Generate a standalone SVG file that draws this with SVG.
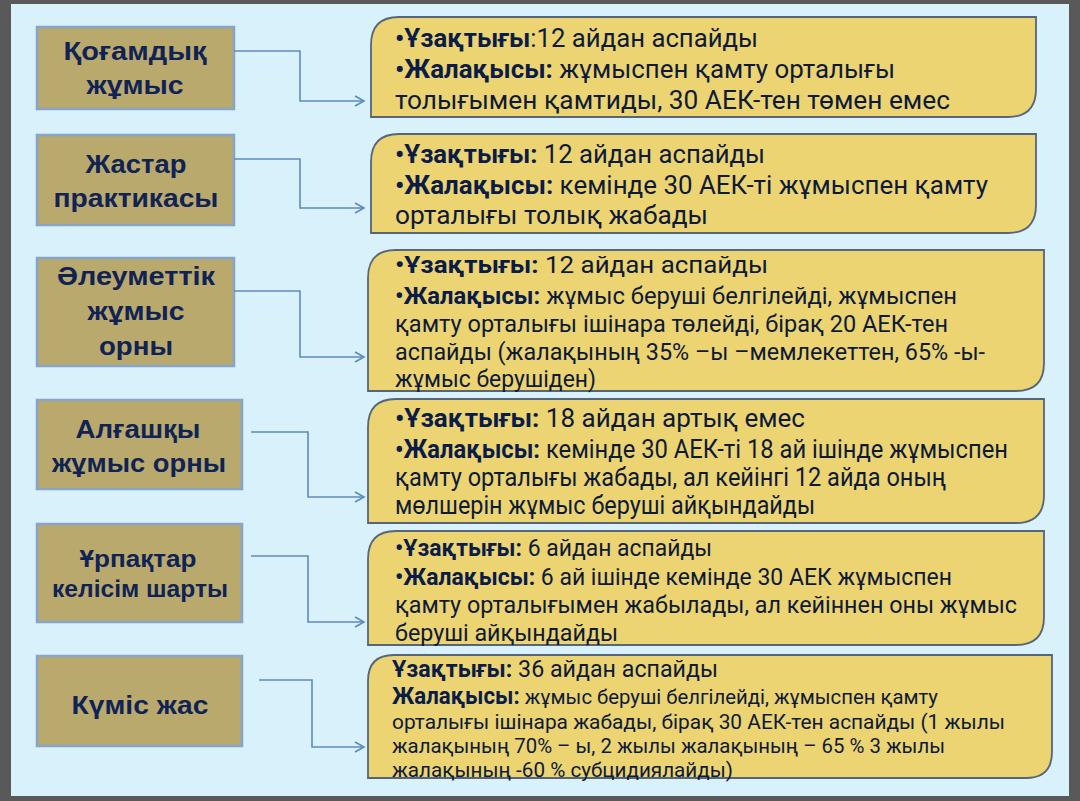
<svg xmlns="http://www.w3.org/2000/svg" width="1080" height="801" viewBox="0 0 1080 801">
<style>
.node rect{fill:#b9a96d;stroke:#86a5c8;stroke-width:2.5}
.nt{font-family:"Liberation Sans",Arial,sans-serif;font-weight:bold;fill:#102354;text-anchor:middle}
.box path{fill:#ebd471;stroke:#56657a;stroke-width:1.8}
.bt{font-family:Roboto,"Liberation Sans",sans-serif;fill:#0e1a38}
.b{font-weight:bold;fill:#0c1c48}
.conn path{fill:none;stroke:#5d8bbd;stroke-width:1.6}
</style>
<defs>
<marker id="arr" markerWidth="12" markerHeight="12" refX="10" refY="6" orient="auto" markerUnits="userSpaceOnUse">
<path d="M1,1 L10,6 L1,11" fill="none" stroke="#5d8bbd" stroke-width="1.6"/>
</marker>
</defs>
<rect x="0" y="0" width="1080" height="801" fill="#595959"/>
<rect x="11" y="4" width="1058" height="792" fill="#d9f1fb"/>

<g id="n1" class="node"><rect x="37" y="27" width="197" height="82"/>
<text class="nt" font-size="26" x="135" y="60" textLength="143" lengthAdjust="spacingAndGlyphs">Қоғамдық</text>
<text class="nt" font-size="26" x="135" y="94" textLength="97" lengthAdjust="spacingAndGlyphs">жұмыс</text></g>
<g id="n2" class="node"><rect x="37" y="135" width="197" height="90"/>
<text class="nt" font-size="26" x="136" y="173" textLength="101" lengthAdjust="spacingAndGlyphs">Жастар</text>
<text class="nt" font-size="26" x="136" y="207" textLength="165" lengthAdjust="spacingAndGlyphs">практикасы</text></g>
<g id="n3" class="node"><rect x="37" y="258" width="197" height="108"/>
<text class="nt" font-size="26" x="136" y="285" textLength="158" lengthAdjust="spacingAndGlyphs">Әлеуметтік</text>
<text class="nt" font-size="26" x="136" y="320" textLength="97" lengthAdjust="spacingAndGlyphs">жұмыс</text>
<text class="nt" font-size="26" x="136" y="355" textLength="74" lengthAdjust="spacingAndGlyphs">орны</text></g>
<g id="n4" class="node"><rect x="37" y="400" width="205" height="89"/>
<text class="nt" font-size="26" x="138" y="438" textLength="125" lengthAdjust="spacingAndGlyphs">Алғашқы</text>
<text class="nt" font-size="26" x="139" y="472" textLength="174" lengthAdjust="spacingAndGlyphs">жұмыс орны</text></g>
<g id="n5" class="node"><rect x="37" y="524" width="205" height="98"/>
<text class="nt" font-size="24" x="138" y="567" textLength="117" lengthAdjust="spacingAndGlyphs">Ұрпақтар</text>
<text class="nt" font-size="24" x="140" y="597" textLength="176" lengthAdjust="spacingAndGlyphs">келісім шарты</text></g>
<g id="n6" class="node"><rect x="37" y="656" width="205" height="90"/>
<text class="nt" font-size="26" x="140" y="714" textLength="137" lengthAdjust="spacingAndGlyphs">Күміс жас</text></g>

<g id="connectors" class="conn">
<path d="M234,51 H300 V101 H364" marker-end="url(#arr)"/>
<path d="M234,159 H300 V208 H364" marker-end="url(#arr)"/>
<path d="M234,291 H300 V357 H364" marker-end="url(#arr)"/>
<path d="M251,432 H308 V497 H364" marker-end="url(#arr)"/>
<path d="M251,556 H308 V622 H364" marker-end="url(#arr)"/>
<path d="M259,680 H312 V747 H364" marker-end="url(#arr)"/>
</g>

<g id="b1" class="box"><path d="M371,117 V45 Q371,17 399,17 H1036 V89 Q1036,117 1008,117 Z"/>
<text class="bt" font-size="26" x="395" y="47" textLength="363" lengthAdjust="spacingAndGlyphs"><tspan class="b">•Ұзақтығы</tspan>:12 айдан аспайды</text>
<text class="bt" font-size="26" x="395" y="78" textLength="500" lengthAdjust="spacingAndGlyphs"><tspan class="b">•Жалақысы:</tspan> жұмыспен қамту орталығы</text>
<text class="bt" font-size="26" x="395" y="109" textLength="555" lengthAdjust="spacingAndGlyphs">толығымен қамтиды, 30 АЕК-тен төмен емес</text></g>

<g id="b2" class="box"><path d="M371,233 V162 Q371,134 399,134 H1036 V205 Q1036,233 1008,233 Z"/>
<text class="bt" font-size="26" x="395" y="163" textLength="370" lengthAdjust="spacingAndGlyphs"><tspan class="b">•Ұзақтығы:</tspan> 12 айдан аспайды</text>
<text class="bt" font-size="26" x="395" y="194" textLength="593" lengthAdjust="spacingAndGlyphs"><tspan class="b">•Жалақысы:</tspan> кемінде 30 АЕК-ті жұмыспен қамту</text>
<text class="bt" font-size="26" x="395" y="224" textLength="313" lengthAdjust="spacingAndGlyphs">орталығы толық жабады</text></g>

<g id="b3" class="box"><path d="M368,391 V278 Q368,250 396,250 H1044 V363 Q1044,391 1016,391 Z"/>
<text class="bt" font-size="24" x="395" y="273" textLength="373" lengthAdjust="spacingAndGlyphs"><tspan class="b">•Ұзақтығы:</tspan> 12 айдан аспайды</text>
<text class="bt" font-size="24" x="395" y="304" textLength="562" lengthAdjust="spacingAndGlyphs"><tspan class="b">•Жалақысы:</tspan> жұмыс беруші белгілейді, жұмыспен</text>
<text class="bt" font-size="24" x="395" y="332" textLength="553" lengthAdjust="spacingAndGlyphs">қамту орталығы ішінара төлейді, бірақ 20 АЕК-тен</text>
<text class="bt" font-size="24" x="395" y="360" textLength="590" lengthAdjust="spacingAndGlyphs">аспайды (жалақының 35% –ы –мемлекеттен, 65% -ы-</text>
<text class="bt" font-size="24" x="395" y="387" textLength="201" lengthAdjust="spacingAndGlyphs">жұмыс берушіден)</text></g>

<g id="b4" class="box"><path d="M368,523 V427 Q368,399 396,399 H1044 V495 Q1044,523 1016,523 Z"/>
<text class="bt" font-size="25" x="395" y="427" textLength="410" lengthAdjust="spacingAndGlyphs"><tspan class="b">•Ұзақтығы:</tspan> 18 айдан артық емес</text>
<text class="bt" font-size="25" x="395" y="458" textLength="613" lengthAdjust="spacingAndGlyphs"><tspan class="b">•Жалақысы:</tspan> кемінде 30 АЕК-ті 18 ай ішінде жұмыспен</text>
<text class="bt" font-size="25" x="395" y="486" textLength="551" lengthAdjust="spacingAndGlyphs">қамту орталығы жабады, ал кейінгі 12 айда оның</text>
<text class="bt" font-size="25" x="395" y="514" textLength="420" lengthAdjust="spacingAndGlyphs">мөлшерін жұмыс беруші айқындайды</text></g>

<g id="b5" class="box"><path d="M368,645 V559 Q368,531 396,531 H1044 V617 Q1044,645 1016,645 Z"/>
<text class="bt" font-size="24" x="395" y="556" textLength="317" lengthAdjust="spacingAndGlyphs"><tspan class="b">•Ұзақтығы:</tspan> 6 айдан аспайды</text>
<text class="bt" font-size="24" x="395" y="585" textLength="557" lengthAdjust="spacingAndGlyphs"><tspan class="b">•Жалақысы:</tspan> 6 ай ішінде кемінде 30 АЕК жұмыспен</text>
<text class="bt" font-size="24" x="395" y="613" textLength="622" lengthAdjust="spacingAndGlyphs">қамту орталығымен жабылады, ал кейіннен оны жұмыс</text>
<text class="bt" font-size="24" x="395" y="641" textLength="223" lengthAdjust="spacingAndGlyphs">беруші айқындайды</text></g>

<g id="b6" class="box"><path d="M368,778 V681 Q368,655 394,655 H1052 V752 Q1052,778 1026,778 Z"/>
<text class="bt" font-size="23" x="392" y="677" textLength="326" lengthAdjust="spacingAndGlyphs"><tspan class="b">Ұзақтығы:</tspan> 36 айдан аспайды</text>
<text class="bt" font-size="21" x="392" y="704" textLength="546" lengthAdjust="spacingAndGlyphs"><tspan class="b" font-size="23">Жалақысы:</tspan> жұмыс беруші белгілейді, жұмыспен қамту</text>
<text class="bt" font-size="21" x="392" y="729" textLength="613" lengthAdjust="spacingAndGlyphs">орталығы ішінара жабады, бірақ 30 АЕК-тен аспайды (1 жылы</text>
<text class="bt" font-size="21" x="392" y="753" textLength="553" lengthAdjust="spacingAndGlyphs">жалақының 70% – ы, 2 жылы жалақының – 65 % 3 жылы</text>
<text class="bt" font-size="21" x="392" y="777" textLength="341" lengthAdjust="spacingAndGlyphs">жалақының -60 % субцидиялайды)</text></g>
</svg>
